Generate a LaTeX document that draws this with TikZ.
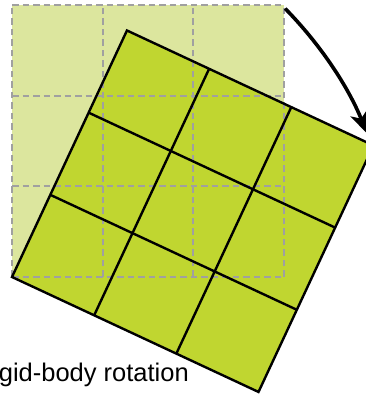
\documentclass[tikz,border=0pt]{standalone}
\usepackage{fontspec}
\setmainfont{Liberation Sans}
\usetikzlibrary{arrows.meta,calc}
\definecolor{lightgreen}{HTML}{DCE69E}
\definecolor{brightgreen}{HTML}{C0D630}
\definecolor{dashgray}{HTML}{A0A0A0}
\tikzset{
  oldgrid/.style={draw=dashgray, line width=2pt, dash pattern=on 6.5pt off 4pt},
  newgrid/.style={draw=black, line width=2.4pt, line join=miter},
  rotarrow/.style={draw=black, line width=3.6pt, -{Stealth[length=22pt,width=18pt,inset=6pt]}},
  caption/.style={font=\fontsize{25.5pt}{30pt}\selectfont, inner sep=0pt, anchor=base east}
}
\begin{document}
\begin{tikzpicture}[x=1pt,y=1pt]
\useasboundingbox (0,0) rectangle (366,394);
\clip (0,0) rectangle (366,394);
\coordinate (P) at (12,117);
% original square
\fill[lightgreen] (P) rectangle ++(272,272);
% rotated square fill
\begin{scope}[shift={(P)}, rotate=-25]
  \fill[brightgreen] (0,0) rectangle (272,272);
\end{scope}
% dashed grid of the original square
\begin{scope}[shift={(P)}]
  \foreach \i in {0,1,2,3} {
    \draw[oldgrid] ({\i*272/3},0) -- ({\i*272/3},272);
    \draw[oldgrid] (0,{\i*272/3}) -- (272,{\i*272/3});
  }
\end{scope}
% rotated solid grid
\begin{scope}[shift={(P)}, rotate=-25]
  \foreach \i in {1,2} {
    \draw[newgrid] ({\i*272/3},0) -- ({\i*272/3},272);
    \draw[newgrid] (0,{\i*272/3}) -- (272,{\i*272/3});
  }
  \draw[newgrid] (0,0) rectangle (272,272);
\end{scope}
% rotation arrow
\coordinate (A) at ($(P)+(44.5:383)$);
\draw[rotarrow] (A) arc[start angle=44.5, end angle=22, radius=383];
% caption
\node[caption] (cap) at (189,12.3) {gid-body rotation};
\end{tikzpicture}
\end{document}
